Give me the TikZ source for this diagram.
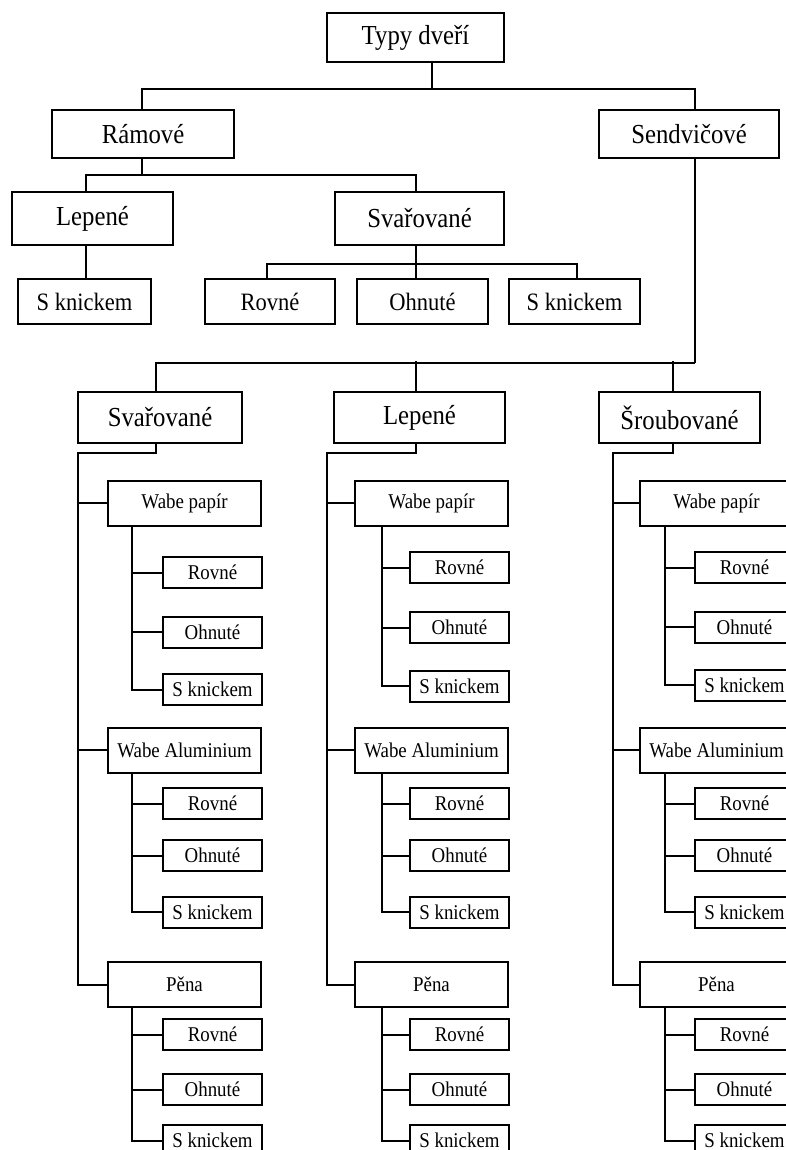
\documentclass[tikz,border=0pt]{standalone}
\usepackage{fontspec}
\setmainfont{Liberation Serif}[FakeStretch=0.9]
\tikzset{
  bx/.style={draw, rectangle, inner sep=0pt, anchor=center, fill=white},
  big/.style={bx, font=\fontsize{27.5}{29}\selectfont},
  mid/.style={bx, font=\fontsize{25}{27}\selectfont},
  small/.style={bx, font=\fontsize{21}{23}\selectfont},
  subbox/.style={small, minimum width=153, minimum height=45},
  leaf/.style={small, minimum width=99, minimum height=31}
}
\begin{document}
\begin{tikzpicture}[x=1pt,y=-1pt,line width=2pt,line join=miter]
\useasboundingbox (0,0) rectangle (786,1150);
\fill[white] (0,0) rectangle (786,1150);
\clip (0,0) rectangle (786,1150);

% upper part
\node[big, minimum width=177, minimum height=49] (typy) at (415.5,37.5) {Typy dveří};
\node[big, minimum width=182, minimum height=48] (ramove) at (143,134) {Rámové};
\node[big, minimum width=180, minimum height=48] (sendv) at (689,134) {Sendvičové};
\node[big, minimum width=161, minimum height=53] (lep1) at (92.5,218.5) {Lepené};
\node[big, minimum width=169, minimum height=53] (sva1) at (419.5,218.5) {Svařované};
\node[mid, minimum width=133, minimum height=45] (sk1) at (84.5,301.5) {S knickem};
\node[mid, minimum width=130, minimum height=45] (rov1) at (270,301.5) {Rovné};
\node[mid, minimum width=131, minimum height=45] (ohn1) at (422.5,301.5) {Ohnuté};
\node[mid, minimum width=131, minimum height=45] (sk2) at (574.5,301.5) {S knickem};

\draw ([xshift=16.5]typy.south) -- ++(0,26) coordinate (j0);
\draw ([xshift=-1]ramove.north) |- (j0) -| ([xshift=6]sendv.north);
\draw ([xshift=-1]ramove.south) -- ++(0,16) coordinate (j1);
\draw ([xshift=-6.5]lep1.north) |- (j1) -| ([xshift=-3.5]sva1.north);
\draw ([xshift=-6.5]lep1.south) -- ([xshift=1.5]sk1.north);
\draw ([xshift=-3.5]sva1.south) -- ++(0,17.5) coordinate (j2);
\draw ([xshift=-3]rov1.north) |- (j2) -| ([xshift=2.5]sk2.north);
\draw (j2) -- ([xshift=-6.5]ohn1.north);

% sandwich level
\node[big, minimum width=164, minimum height=51] (sva2) at (160,417.5) {Svařované};
\node[big, minimum width=171, minimum height=51] (lep2) at (419.5,417.5) {Lepené};
\node[big, minimum width=161, minimum height=51] (srou) at (679.5,417.5) {Šroubované};

\draw ([xshift=6]sendv.south) -- ++(0,204) coordinate (j3);
\draw ([xshift=-4]sva2.north) |- (j3);
\draw ([xshift=-3.5]lep2.north) -- ++(0,-30);
\draw ([xshift=-6.5]srou.north) -- ++(0,-30);

% columns
\foreach \p/\pn/\px/\rx/\sx/\dx/\ya/\yb/\yc in
  {A/sva2/156/78/108/24/572.5/632/689.5,
   B/lep2/416/327/355/27/567.5/627.5/686,
   C/srou/673/612.5/640/25/567.5/627/685}{
  \node[subbox] (\p s1) at ({\sx+76.5},503) {Wabe papír};
  \node[subbox] (\p s2) at ({\sx+76.5},750) {Wabe Aluminium};
  \node[subbox] (\p s3) at ({\sx+76.5},984.5) {Pěna};
  \node[leaf] (\p a1) at ({\sx+104.5},\ya) {Rovné};
  \node[leaf] (\p a2) at ({\sx+104.5},\yb) {Ohnuté};
  \node[leaf] (\p a3) at ({\sx+104.5},\yc) {S knickem};
  \node[leaf] (\p b1) at ({\sx+104.5},803.5) {Rovné};
  \node[leaf] (\p b2) at ({\sx+104.5},855.5) {Ohnuté};
  \node[leaf] (\p b3) at ({\sx+104.5},912) {S knickem};
  \node[leaf] (\p c1) at ({\sx+104.5},1034.5) {Rovné};
  \node[leaf] (\p c2) at ({\sx+104.5},1089.5) {Ohnuté};
  \node[leaf] (\p c3) at ({\sx+104.5},1140.5) {S knickem};
  \coordinate (\p d) at (\px,0);
  \coordinate (\p r) at (\rx,0);
  \coordinate (\p v) at ({\sx+\dx},0);
  \draw (\pn.south -| \p d) -- ++(0,9) -| (\p s3.west -| \p r) -- (\p s3.west);
  \draw (\p s1.west -| \p r) -- (\p s1.west);
  \draw (\p s2.west -| \p r) -- (\p s2.west);
  \foreach \s/\l in {s1/a, s2/b, s3/c}{
    \draw (\p\s.south -| \p v) |- (\p\l3.west);
    \draw (\p\l1.west -| \p v) -- (\p\l1.west);
    \draw (\p\l2.west -| \p v) -- (\p\l2.west);
  }
}
\end{tikzpicture}
\end{document}
